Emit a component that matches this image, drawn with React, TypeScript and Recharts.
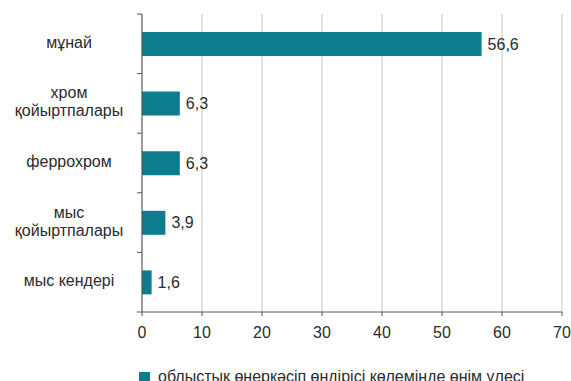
import React from 'react';
import { BarChart, Bar, XAxis, YAxis, CartesianGrid, LabelList } from 'recharts';

const categories = ['мұнай', 'хром\nқойыртпалары', 'феррохром', 'мыс\nқойыртпалары', 'мыс кендері'];
const shares = [56.6, 6.3, 6.3, 3.9, 1.6];
const xTicks = [0, 10, 20, 30, 40, 50, 60, 70];
const seriesName = 'облыстық өнеркәсіп өндірісі көлемінде өнім үлесі';

const BAR_COLOR = '#0b7d8c';
const TEXT_COLOR = '#2b2b2b';
const AXIS_COLOR = '#555555';
const FONT = '"Liberation Sans", Arial, sans-serif';
const FS = 16;

const data = categories.map((name, i) => ({ name, value: shares[i] }));

const PLOT_TOP = 14;
const PLOT_BOTTOM = 312;
const BAND = (PLOT_BOTTOM - PLOT_TOP) / categories.length;

const CategoryTick = (props: any) => {
    const { x, y, payload, index } = props;
    const lines: string[] = String(payload.value).split('\n');
    const lineH = 18;
    const startY = y - ((lines.length - 1) * lineH) / 2 - 2;
    return (
        <g>
            <line x1={x + 3} x2={x + 8} y1={y - BAND / 2} y2={y - BAND / 2} stroke={AXIS_COLOR} />
            {index === categories.length - 1 && (
                <line x1={x + 3} x2={x + 8} y1={y + BAND / 2} y2={y + BAND / 2} stroke={AXIS_COLOR} />
            )}
            <text x={69} y={startY} textAnchor="middle" dominantBaseline="central" fontSize={FS} fill={TEXT_COLOR} fontFamily={FONT}>
                {lines.map((l, i) => (
                    <tspan key={i} x={69} dy={i === 0 ? 0 : lineH}>{l}</tspan>
                ))}
            </text>
        </g>
    );
};

export default function App() {
    return (
        <div style={{ position: 'absolute', left: 0, top: 0, width: 571, height: 381, overflow: 'hidden', background: '#fff', fontFamily: FONT }}>
            <BarChart
                width={571}
                height={381}
                data={data}
                layout="vertical"
                margin={{ top: PLOT_TOP, right: 9, bottom: 0, left: 0 }}
                barCategoryGap={0}
            >
                <CartesianGrid horizontal={false} stroke="#d9d9d9" strokeWidth={1.5} />
                <XAxis
                    type="number"
                    domain={[0, 70]}
                    ticks={xTicks}
                    interval={0}
                    height={69}
                    stroke={AXIS_COLOR}
                    tickSize={4}
                    tickMargin={11}
                    tick={{ fontSize: FS, fill: TEXT_COLOR, fontFamily: FONT }}
                />
                <YAxis
                    type="category"
                    dataKey="name"
                    width={142}
                    stroke={AXIS_COLOR}
                    tickLine={false}
                    tick={<CategoryTick />}
                    interval={0}
                />
                <Bar dataKey="value" name={seriesName} fill={BAR_COLOR} barSize={24} isAnimationActive={false}>
                    <LabelList
                        dataKey="value"
                        position="right"
                        offset={6}
                        fontSize={FS}
                        fill={TEXT_COLOR}
                        fontFamily={FONT}
                        formatter={(v: any) => String(v).replace('.', ',')}
                    />
                </Bar>
            </BarChart>
            <div style={{ position: 'absolute', left: 139, top: 368, display: 'flex', alignItems: 'center', gap: 8, fontSize: FS, color: TEXT_COLOR, whiteSpace: 'nowrap' }}>
                <div style={{ width: 11, height: 11, background: BAR_COLOR }} />
                <span>{seriesName}</span>
            </div>
        </div>
    );
}
